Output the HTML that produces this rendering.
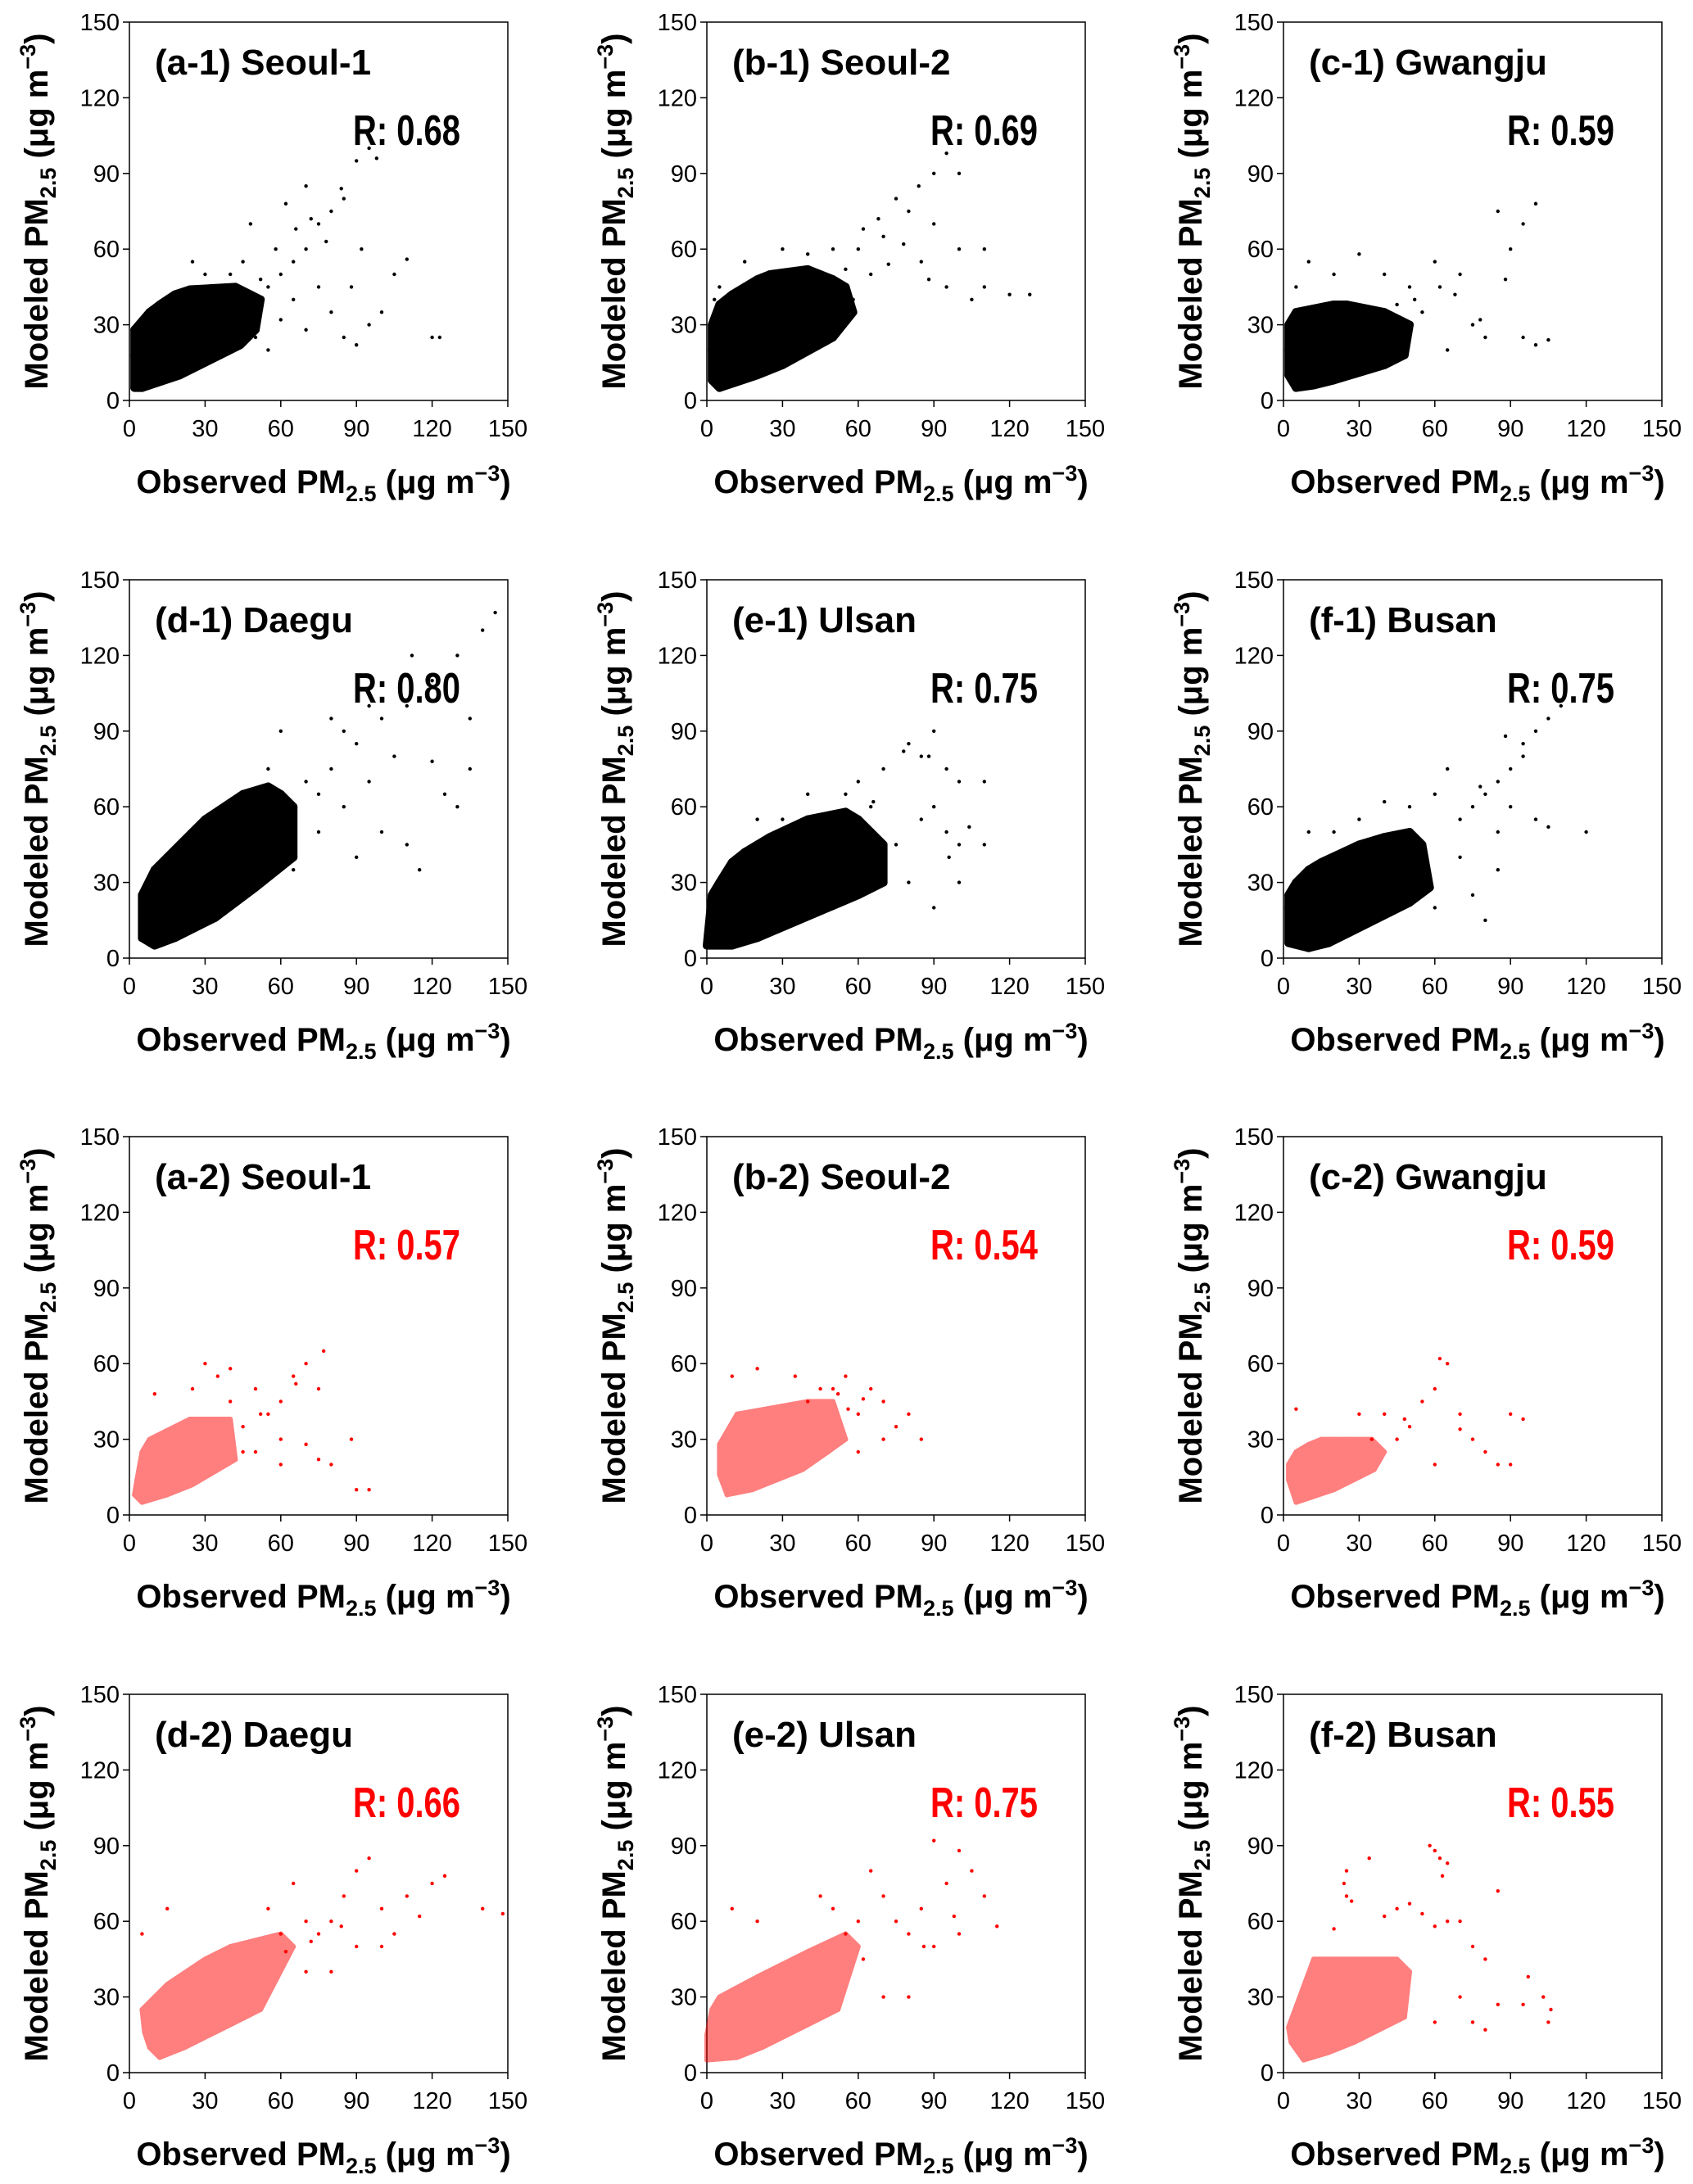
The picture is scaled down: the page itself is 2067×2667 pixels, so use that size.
<!DOCTYPE html>
<html><head><meta charset="utf-8">
<style>
html,body{margin:0;padding:0;background:#fff;}
svg{display:block;font-family:"Liberation Sans",Arial,sans-serif;}
.tick{font-size:29px;fill:#000;}
.ttl{font-size:44px;font-weight:bold;fill:#000;}
.ax{font-size:40px;font-weight:bold;fill:#000;}
.rv{font-family:"Liberation Sans Narrow","Liberation Sans",sans-serif;font-size:52px;font-weight:bold;}
</style></head>
<body>
<svg id="fig" width="2067" height="2667" viewBox="0 0 2067 2667" xmlns="http://www.w3.org/2000/svg"></svg>
<script>
// ---- data (µg m-3) ----
const ticks = [0, 30, 60, 90, 120, 150];
const panelIds = ["a-1","b-1","c-1","d-1","e-1","f-1","a-2","b-2","c-2","d-2","e-2","f-2"];
const panelTitles = ["(a-1) Seoul-1","(b-1) Seoul-2","(c-1) Gwangju","(d-1) Daegu","(e-1) Ulsan","(f-1) Busan","(a-2) Seoul-1","(b-2) Seoul-2","(c-2) Gwangju","(d-2) Daegu","(e-2) Ulsan","(f-2) Busan"];
const rValues = ["0.68","0.69","0.59","0.80","0.75","0.75","0.57","0.54","0.59","0.66","0.75","0.55"];

// dense core samples (obs, mod)
const coreObs = [
 [3,5,8,10,12,15,18,20,22,25,28,30,33,35,4,6,10,14,20,25,40,38,45,2,16,8,30,42, 2,5,8,12,18,24,30,36,42,48,52,5,12,20,28,36,44,50,2,22,34],
 [3,5,8,10,12,15,18,20,22,25,28,30,33,35,40,45,6,12,20,28,38,48,2,15,25,50, 2,5,10,15,20,25,30,35,40,45,50,55,5,12,20,30,40,50,58,2,25],
 [3,5,8,10,12,15,18,20,22,25,28,30,33,35,40,45,4,10,18,26,36,2, 2,5,10,15,20,25,30,35,40,45,50,5,12,20,30,40,48,2,25],
 [6,8,10,12,15,18,20,22,25,28,30,33,35,40,45,50,55,60,10,18,26,34,42,50,8,15,30, 5,10,15,20,25,30,35,40,45,50,55,60,65,10,18,26,34,42,50,58,65,5,38,48],
 [2,4,6,8,10,12,15,18,20,22,25,28,30,35,40,45,50,55,60,8,15,25,35,45,5,20,40, 2,5,10,15,20,25,30,35,40,45,50,55,60,65,70,10,20,30,40,50,60,70,0,25,45],
 [3,5,8,10,12,15,18,20,22,25,28,30,33,35,40,45,50,8,15,25,35,2,20, 2,5,10,15,20,25,30,35,40,45,50,55,10,18,26,34,42,50,58,2,30],
 [3,5,8,10,12,15,18,20,22,25,28,30,33,35,10,20,28, 2,5,8,12,18,24,30,36,40,5,15,25,35,42,10,20],
 [5,8,10,12,15,18,20,22,25,28,30,35,40,45,15,25,35, 5,10,15,20,25,30,35,40,45,50,8,18,28,38,48,55,12],
 [2,4,6,8,10,12,15,18,20,22,25,28,30,8,16,24, 2,5,10,15,20,25,30,35,5,12,20,28,36,40],
 [6,8,10,12,15,18,20,25,30,35,40,45,50,55,12,22,32,42, 5,10,15,20,25,30,35,40,45,50,55,60,65,12,22,32,42,52,8,28],
 [2,5,8,10,12,15,18,20,25,30,35,40,45,50,12,22,32, 2,5,10,15,20,25,30,35,40,45,50,55,60,12,22,32,42,52,0,0],
 [3,6,8,10,12,15,18,20,22,25,28,30,35,40,45,14,24,34, 2,5,10,15,20,25,30,35,40,45,50,8,18,28,38,48,12]
];
const coreMod = [
 [12,18,15,20,17,22,20,25,22,27,25,28,27,30,25,8,10,28,15,32,32,25,35,18,12,28,20,40, 5,30,35,38,42,44,42,40,45,42,40,5,8,10,14,18,22,28,28,36,18],
 [14,20,16,22,19,24,22,28,25,30,28,32,30,35,35,38,10,30,15,22,28,40,20,12,38,45, 30,38,42,45,48,50,48,50,52,50,48,45,5,8,10,14,20,25,35,8,40],
 [14,18,15,20,17,22,20,24,22,25,24,26,25,28,28,30,25,10,14,18,20,20, 30,35,36,35,38,38,36,35,35,32,30,5,6,8,12,14,18,10,30],
 [14,18,17,22,20,25,22,28,27,32,33,35,38,40,42,45,50,52,28,14,20,30,35,38,10,30,45, 25,35,40,45,50,55,58,60,65,65,68,65,60,5,8,12,16,22,28,35,40,8,50,55],
 [12,16,18,15,20,18,22,24,25,26,28,30,32,35,36,38,40,42,44,28,12,20,26,30,25,35,45, 25,30,38,42,45,48,50,52,55,55,55,58,55,50,45,5,8,14,18,22,25,30,5,40,45],
 [12,16,15,20,18,22,20,25,23,27,26,28,30,32,34,36,38,10,28,18,25,20,32, 25,30,35,38,40,42,45,45,48,48,50,45,4,6,10,14,18,22,28,6,38],
 [14,18,16,20,18,22,20,24,22,26,25,28,27,30,12,14,20, 8,25,30,32,35,38,35,32,38,5,8,12,18,22,28,30],
 [16,20,18,22,21,24,23,26,26,28,28,30,32,34,14,20,26, 28,32,35,38,40,42,40,45,45,45,8,10,14,18,25,30,40],
 [14,16,15,18,17,19,20,21,22,22,23,24,24,22,20,16, 20,25,28,30,30,30,28,30,5,8,10,14,18,25],
 [16,18,16,22,20,24,22,26,30,32,35,40,42,45,12,16,26,32, 25,30,35,38,40,45,45,50,50,52,50,55,50,6,10,15,20,25,10,18],
 [16,18,20,18,22,24,24,26,28,32,34,38,40,44,14,20,26, 25,30,32,35,38,40,42,45,48,50,50,55,50,6,10,15,20,25,5,15],
 [12,14,16,14,18,20,22,24,25,26,28,30,32,36,38,10,16,22, 18,25,30,35,38,40,42,45,45,45,40,5,8,12,18,22,45]
];
// sparse outliers (obs, mod)
const sparseObs = [
 [50,55,60,65,70,75,80,85,90,95,98,92,100,105,110,120,123,85,90,95,70,60,55,50,65,75,80,45,40,35,30,25,48,62,70,88,78,58,42,66,84,72,52],
 [95,90,100,80,110,120,105,85,70,75,60,65,90,100,95,110,128,5,3,15,30,50,40,55,62,68,78,88,84,72,58],
 [100,95,90,85,70,60,75,80,95,100,105,65,55,50,5,10,20,30,40,88,62,45,52,68,78],
 [145,140,130,120,110,100,90,95,85,80,75,110,115,125,130,135,70,60,55,100,90,65,105,112,120,135,80,95,85,75],
 [90,80,85,95,100,90,95,100,110,110,100,90,80,70,60,65,55,75,85,70,40,30,20,88,78,66,96,104],
 [110,105,100,95,90,85,80,75,70,60,65,85,95,100,105,120,85,75,80,60,55,90,70,50,40,30,20,10,88,78],
 [77,70,75,65,60,55,50,45,40,50,60,70,75,80,90,95,88,30,35,40,25,10,60,45,52,66],
 [85,75,70,65,60,55,50,45,40,35,20,10,60,70,80,52,62,56],
 [90,95,85,75,70,65,60,55,50,45,40,35,30,60,80,90,5,62,48,70],
 [148,140,120,110,100,95,90,85,80,75,70,65,60,55,100,105,90,70,80,5,15,125,115,62,72,84],
 [115,110,105,100,90,95,85,80,75,70,65,60,55,50,45,90,100,80,70,10,20,98,86,62],
 [58,60,62,65,63,34,25,24,25,27,50,55,60,65,70,75,80,85,97,103,106,105,95,85,75,80,70,60,45,40,20]
];
const sparseMod = [
 [38,45,50,55,60,70,75,80,95,100,96,60,35,50,56,25,25,25,22,30,28,32,20,25,40,45,35,55,50,45,50,55,70,78,85,45,63,60,42,68,84,72,48],
 [98,90,90,75,45,42,40,55,65,80,60,50,70,60,45,60,42,45,40,55,60,60,58,52,68,72,62,48,85,54,40],
 [78,70,60,75,50,55,30,25,25,22,24,20,35,45,45,55,50,58,50,48,45,38,40,42,32],
 [137,130,120,110,100,95,85,70,60,75,50,45,35,65,60,95,70,90,75,50,40,35,80,120,78,75,95,100,90,65],
 [90,85,80,75,70,60,50,45,70,45,30,20,30,75,70,60,65,45,55,35,65,55,55,80,82,62,40,52],
 [100,95,90,85,75,70,65,60,55,65,75,50,80,55,52,50,35,25,15,20,30,60,40,60,62,55,50,50,88,68],
 [65,60,50,55,45,40,50,35,45,25,30,28,22,20,10,10,30,60,55,58,50,48,20,25,40,52],
 [30,35,45,50,40,55,50,50,45,55,58,55,25,30,40,48,46,42],
 [40,38,20,30,40,60,50,45,35,30,40,30,40,20,25,20,42,62,38,34],
 [63,65,75,70,65,85,80,70,60,55,60,75,55,65,50,55,50,40,40,55,65,78,62,48,52,58],
 [58,70,80,88,92,75,65,55,60,70,80,60,55,65,70,50,55,30,30,65,60,62,50,45],
 [90,88,85,83,78,85,80,75,70,68,67,63,58,60,60,50,45,72,38,30,25,20,27,27,20,17,30,20,65,62,57]
];

// ---- layout ----
const colL = [158, 863, 1567];
const rowT = [27, 708, 1388, 2069];
const W = 462, H = 462, VMAX = 150;
const NS = "http://www.w3.org/2000/svg";
const fig = document.getElementById("fig");
function mk(tag, attrs, parent){
  const e = document.createElementNS(NS, tag);
  for (const k in attrs) e.setAttribute(k, attrs[k]);
  (parent||fig).appendChild(e);
  return e;
}
function hull(p){
  p = p.slice().sort((a,b)=>a[0]-b[0]||a[1]-b[1]);
  const cr=(o,a,b)=>(a[0]-o[0])*(b[1]-o[1])-(a[1]-o[1])*(b[0]-o[0]);
  const lo=[],up=[];
  for(const q of p){while(lo.length>=2&&cr(lo[lo.length-2],lo[lo.length-1],q)<=0)lo.pop();lo.push(q);}
  for(let i=p.length-1;i>=0;i--){const q=p[i];while(up.length>=2&&cr(up[up.length-2],up[up.length-1],q)<=0)up.pop();up.push(q);}
  up.pop();lo.pop();return lo.concat(up);
}

panelIds.forEach((id, i) => {
  const L = colL[i % 3], T = rowT[Math.floor(i / 3)];
  const red = i >= 6;
  const color = red ? "#ff0000" : "#000000";
  const xs = v => L + v / VMAX * W;
  const ys = v => T + H - v / VMAX * H;

  const g = mk("g", {});
  
  

  const fr = mk("rect", {x:L, y:T, width:W, height:H, fill:"none", stroke:"#000", "stroke-width":1.5}, g);
  
  

  const core = mk("g", {fill: color, opacity: red ? 0.5 : 1}, g);
  
  
  const cp = coreObs[i].map((ox, j) => [xs(ox), ys(coreMod[i][j])]);
  const h = hull(cp);
  const hp = mk("polygon", {points: h.map(q => q.join(",")).join(" "), stroke: color, "stroke-width": red ? 6 : 10, "stroke-linejoin": "round"}, core);
  
  
  cp.forEach(q => {
    const c = mk("circle", {cx: q[0], cy: q[1], r: red ? 3 : 5}, core);
    
    
  });

  const pts = mk("g", {fill: color}, g);
  
  
  sparseObs[i].forEach((ox, j) => {
    const c = mk("circle", {cx: xs(ox), cy: ys(sparseMod[i][j]), r: 2.2}, pts);
    
    
  });

  ticks.forEach(t => {
    mk("line", {x1: xs(t), y1: T+H, x2: xs(t), y2: T+H+8, stroke:"#000", "stroke-width":1.5}, g);
    mk("line", {x1: L-8, y1: ys(t), x2: L, y2: ys(t), stroke:"#000", "stroke-width":1.5}, g);
    const xl = mk("text", {x: xs(t), y: T+H+44, "text-anchor":"middle", class:"tick"}, g);
    xl.textContent = t;
    
    
    const yl = mk("text", {x: L-12, y: ys(t)+10, "text-anchor":"end", class:"tick"}, g);
    yl.textContent = t;
    
    
  });

  const tt = mk("text", {x: L+31, y: T+64, class:"ttl"}, g);
  tt.textContent = panelTitles[i];
  
  

  const rv = mk("text", {x: L+273, y: T+150, class:"rv", fill: color, textLength: 131, lengthAdjust: "spacingAndGlyphs"}, g);
  rv.textContent = "R: " + rValues[i];
  
  

  const xt = mk("text", {x: L+W/2+6, y: T+H+113, "text-anchor":"middle", class:"ax"}, g);
  xt.innerHTML = 'Observed PM<tspan font-size="27" dy="10">2.5</tspan><tspan dy="-10"> (μg m</tspan><tspan font-size="27" dy="-15">−3</tspan><tspan dy="15">)</tspan>';
  
  

  const yt = mk("text", {x: 0, y: 0, "text-anchor":"middle", class:"ax", transform:`translate(${L-100},${T+H/2}) rotate(-90)`}, g);
  yt.innerHTML = 'Modeled PM<tspan font-size="27" dy="10">2.5</tspan><tspan dy="-10"> (μg m</tspan><tspan font-size="27" dy="-15">−3</tspan><tspan dy="15">)</tspan>';
  
  
});
</script>
</body></html>
